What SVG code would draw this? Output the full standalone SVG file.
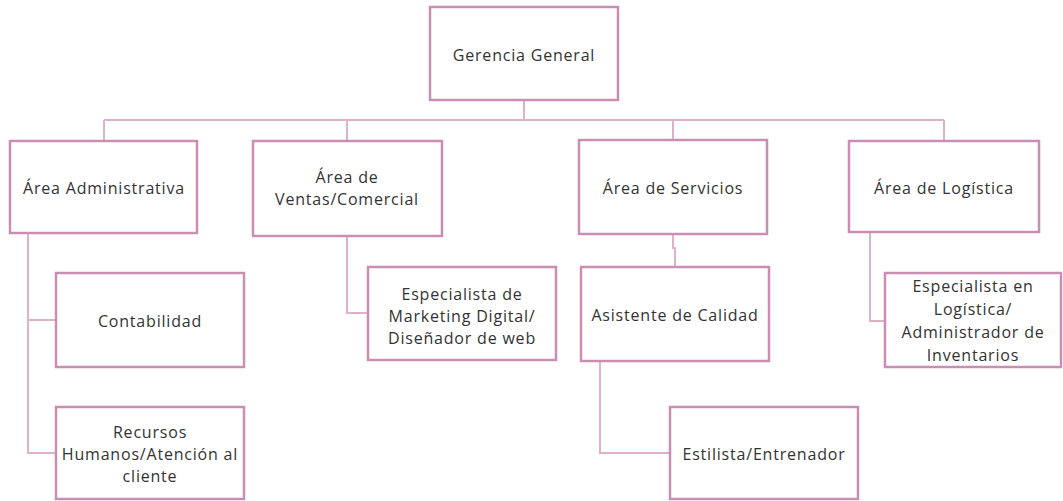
<svg xmlns="http://www.w3.org/2000/svg" width="1063" height="501" viewBox="0 0 1063 501">
<style>
.box{fill:#fff;stroke:#c98fb2;stroke-width:2.5}
.ln{fill:none;stroke:#ddb2ca;stroke-width:2}
text{font-family:"Open Sans","Liberation Sans",sans-serif;font-size:16px;letter-spacing:0.8px;fill:#333;text-anchor:middle}
</style>
<rect width="1063" height="501" fill="#fff"/>
<g id="connectors">
<path class="ln" d="M524 100V120M104 120H944M104 120V141M347 120V141M673 120V140M944 120V141"/>
<path class="ln" d="M28 233V453H56M28 320H56"/>
<path class="ln" d="M347 236V313H368"/>
<path class="ln" d="M673 234V248H675V267"/>
<path class="ln" d="M600 361V453H670"/>
<path class="ln" d="M870 232V321H885"/>
</g>
<g id="n1"><rect class="box" x="430" y="7" width="188" height="93"/><text x="524" y="61">Gerencia General</text></g>
<g id="n2"><rect class="box" x="10" y="141" width="187" height="92"/><text x="104" y="194">Área Administrativa</text></g>
<g id="n3"><rect class="box" x="253" y="141" width="189" height="95"/><text x="347" y="183">Área de</text><text x="347" y="205">Ventas/Comercial</text></g>
<g id="n4"><rect class="box" x="579" y="140" width="188" height="94"/><text x="673" y="194">Área de Servicios</text></g>
<g id="n5"><rect class="box" x="849" y="141" width="190" height="91"/><text x="944" y="194">Área de Logística</text></g>
<g id="n6"><rect class="box" x="56" y="273" width="188" height="94"/><text x="150" y="327">Contabilidad</text></g>
<g id="n7"><rect class="box" x="56" y="407" width="188" height="92"/><text x="150" y="438">Recursos</text><text x="150" y="460">Humanos/Atención al</text><text x="150" y="482">cliente</text></g>
<g id="n8"><rect class="box" x="368" y="267" width="188" height="93"/><text x="462" y="300">Especialista de</text><text x="462" y="322">Marketing Digital/</text><text x="462" y="344">Diseñador de web</text></g>
<g id="n9"><rect class="box" x="581" y="267" width="188" height="94"/><text x="675" y="321">Asistente de Calidad</text></g>
<g id="n10"><rect class="box" x="670" y="407" width="188" height="92"/><text x="764" y="460">Estilista/Entrenador</text></g>
<g id="n11"><rect class="box" x="885" y="273" width="176" height="94"/><text x="973" y="292">Especialista en</text><text x="973" y="315">Logística/</text><text x="973" y="338">Administrador de</text><text x="973" y="361">Inventarios</text></g>
</svg>
